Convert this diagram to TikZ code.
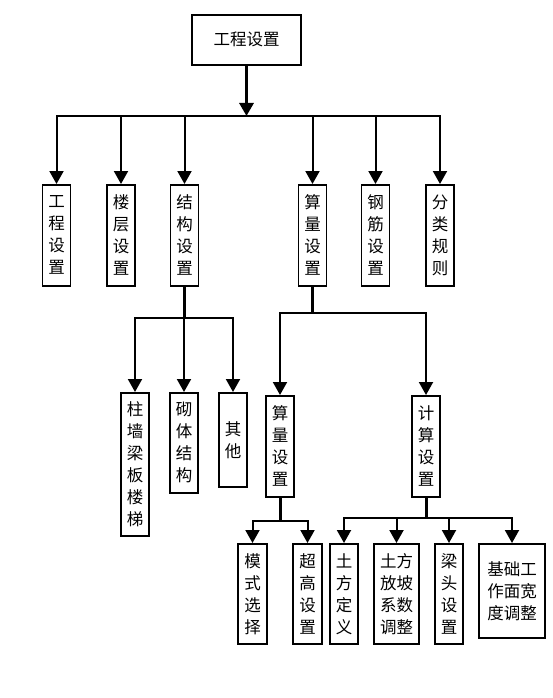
\documentclass[tikz,border=0pt]{standalone}
\usepackage{fontspec}
\newfontfamily\cjk{Noto Sans CJK SC}
\usetikzlibrary{arrows.meta}
\begin{document}
\begin{tikzpicture}[x=1pt,y=-1pt,
  box/.style={draw, line width=1.6pt, inner sep=0pt, align=center,
    font=\cjk\fontsize{16.5}{22}\selectfont, anchor=north, minimum width=28pt},
  conn/.style={line width=2pt, line cap=rect},
  stem/.style={line width=3pt},
  tip/.style={-{Triangle[width=14pt,length=13pt]}},
]
\useasboundingbox (0,0) rectangle (552,698);

% top
\node[box, minimum width=109pt, minimum height=50pt] (top) at (246.5,14) {工程设置};

% level 1
\node[box, minimum height=101pt] (a1) at (56.5,184) {工\\程\\设\\置};
\node[box, minimum height=101pt] (a2) at (121,184) {楼\\层\\设\\置};
\node[box, minimum height=101pt] (a3) at (184.5,184) {结\\构\\设\\置};
\node[box, minimum height=101pt] (a4) at (312.5,184) {算\\量\\设\\置};
\node[box, minimum height=101pt] (a5) at (375.5,184) {钢\\筋\\设\\置};
\node[box, minimum height=101pt] (a6) at (440,184) {分\\类\\规\\则};

% level 2 (structure)
\node[box, minimum height=143pt] (b1) at (135,392) {柱\\墙\\梁\\板\\楼\\梯};
\node[box, minimum height=100pt] (b2) at (184,392) {砌\\体\\结\\构};
\node[box, minimum height=94pt] (b3) at (233,392) {其\\他};

% level 2 (quantity)
\node[box, minimum height=101pt] (c1) at (280,395) {算\\量\\设\\置};
\node[box, minimum height=101pt] (c2) at (426,395) {计\\算\\设\\置};

% level 3
\node[box, minimum width=29pt, minimum height=100pt] (d1) at (252.5,543) {模\\式\\选\\择};
\node[box, minimum width=29pt, minimum height=100pt] (d2) at (307.5,543) {超\\高\\设\\置};
\node[box, minimum height=100pt] (e1) at (344,543) {土\\方\\定\\义};
\node[box, minimum width=45pt, minimum height=100pt] (e2) at (396.5,543) {土方\\放坡\\系数\\调整};
\node[box, minimum height=100pt] (e3) at (449,543) {梁\\头\\设\\置};
\node[box, minimum width=66pt, minimum height=94pt] (e4) at (512,543) {基础工\\作面宽\\度调整};

% junctions
\coordinate (j0) at (246.5,116);
\coordinate (j1) at (184.5,318);
\coordinate (j2) at (312.5,313);
\coordinate (j3) at (280,521);
\coordinate (j4) at (426,518);

% connectors
\draw[stem,tip] (top.south) -- (j0);
\draw[conn] (a1.north |- j0) -- (a6.north |- j0);
\foreach \n in {a1,a2,a3,a4,a5,a6} \draw[conn,tip] (\n.north |- j0) -- (\n.north);

\draw[stem] (a3.south) -- (j1);
\draw[conn] (b1.north |- j1) -- (b3.north |- j1);
\foreach \n in {b1,b2,b3} \draw[conn,tip] (\n.north |- j1) -- (\n.north);

\draw[stem] (a4.south) -- (j2);
\draw[conn] (c1.north |- j2) -- (c2.north |- j2);
\foreach \n in {c1,c2} \draw[conn,tip] (\n.north |- j2) -- (\n.north);

\draw[stem] (c1.south) -- (j3);
\draw[conn] (d1.north |- j3) -- (d2.north |- j3);
\foreach \n in {d1,d2} \draw[conn,tip] (\n.north |- j3) -- (\n.north);

\draw[stem] (c2.south) -- (j4);
\draw[conn] (e1.north |- j4) -- (e4.north |- j4);
\foreach \n in {e1,e2,e3,e4} \draw[conn,tip] (\n.north |- j4) -- (\n.north);
\end{tikzpicture}
\end{document}
